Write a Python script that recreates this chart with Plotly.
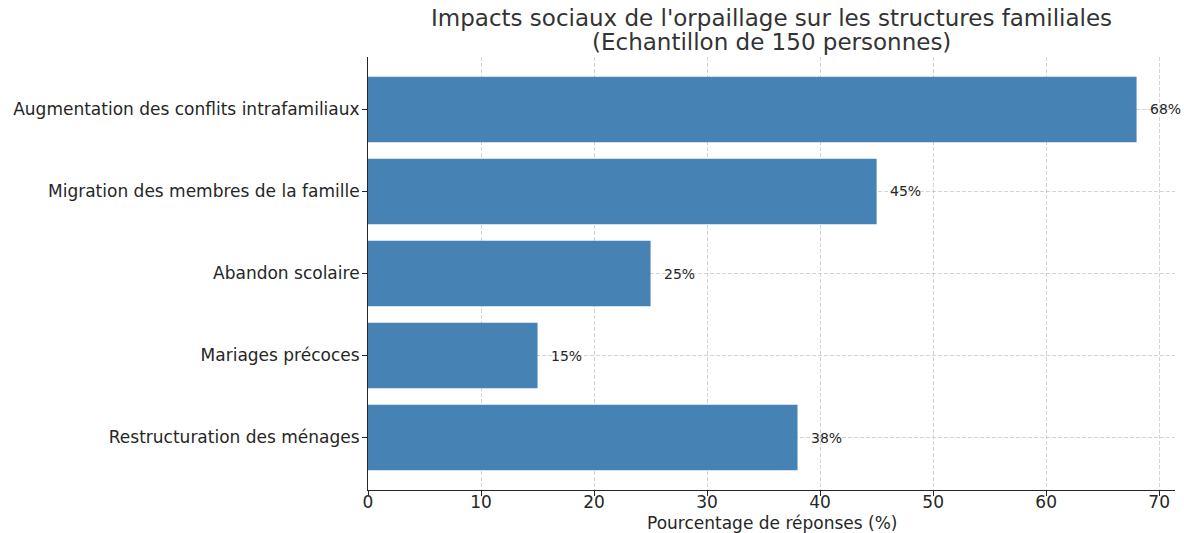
import plotly.graph_objects as go

categories = [
    "Augmentation des conflits intrafamiliaux",
    "Migration des membres de la famille",
    "Abandon scolaire",
    "Mariages précoces",
    "Restructuration des ménages",
]
percentages = [68, 45, 25, 15, 38]
x_ticks = [0, 10, 20, 30, 40, 50, 60, 70]
title_lines = [
    "Impacts sociaux de l'orpaillage sur les structures familiales",
    "(Echantillon de 150 personnes)",
]
x_title = "Pourcentage de réponses (%)"

FONT = "DejaVu Sans"
TEXT = "#262626"
GRID = "rgba(170,170,170,0.5)"

fig = go.Figure(
    go.Bar(
        x=percentages,
        y=categories,
        orientation="h",
        width=0.8,
        marker=dict(color="#4682B4", line=dict(width=0)),
    )
)

# value labels just past the end of each bar
for cat, val in zip(categories, percentages):
    fig.add_annotation(
        x=val + 1, y=cat, text=f"{val}%", showarrow=False,
        xanchor="left", yanchor="middle",
        font=dict(family=FONT, size=14, color=TEXT),
    )

# two-line chart title above the plot area
for line, shift in zip(title_lines, [39, 15]):
    fig.add_annotation(
        xref="paper", yref="paper", x=0.5, y=1, yshift=shift,
        xanchor="center", yanchor="middle", showarrow=False,
        text=line, font=dict(family=FONT, size=23, color="#333333"),
    )

# x-axis title
fig.add_annotation(
    xref="paper", yref="paper", x=0.5, y=0, yshift=-33,
    xanchor="center", yanchor="middle", showarrow=False,
    text=x_title, font=dict(family=FONT, size=17, color=TEXT),
)

fig.update_layout(
    width=1184, height=533,
    margin=dict(l=368, r=9, t=57, b=43, autoexpand=False),
    paper_bgcolor="white", plot_bgcolor="white",
    showlegend=False,
    font=dict(family=FONT, color=TEXT),
)

fig.update_xaxes(
    range=[0, 71.4],
    tickvals=x_ticks,
    ticks="outside", ticklen=5, tickcolor=TEXT,
    ticklabelstandoff=-8,
    tickfont=dict(family=FONT, size=17, color=TEXT),
    showline=True, linecolor=TEXT, linewidth=1,
    showgrid=True, gridcolor=GRID, griddash="4px,2px", gridwidth=1,
    zeroline=False, automargin=False,
    layer="above traces",
)

fig.update_yaxes(
    autorange=False,
    range=[4.64, -0.64],
    ticks="outside", ticklen=5, tickcolor=TEXT,
    ticklabelstandoff=-1,
    tickfont=dict(family=FONT, size=17, color=TEXT),
    showline=True, linecolor=TEXT, linewidth=1,
    showgrid=True, gridcolor=GRID, griddash="4px,2px", gridwidth=1,
    zeroline=False, automargin=False,
    layer="above traces",
)

fig.write_html("out.html")
